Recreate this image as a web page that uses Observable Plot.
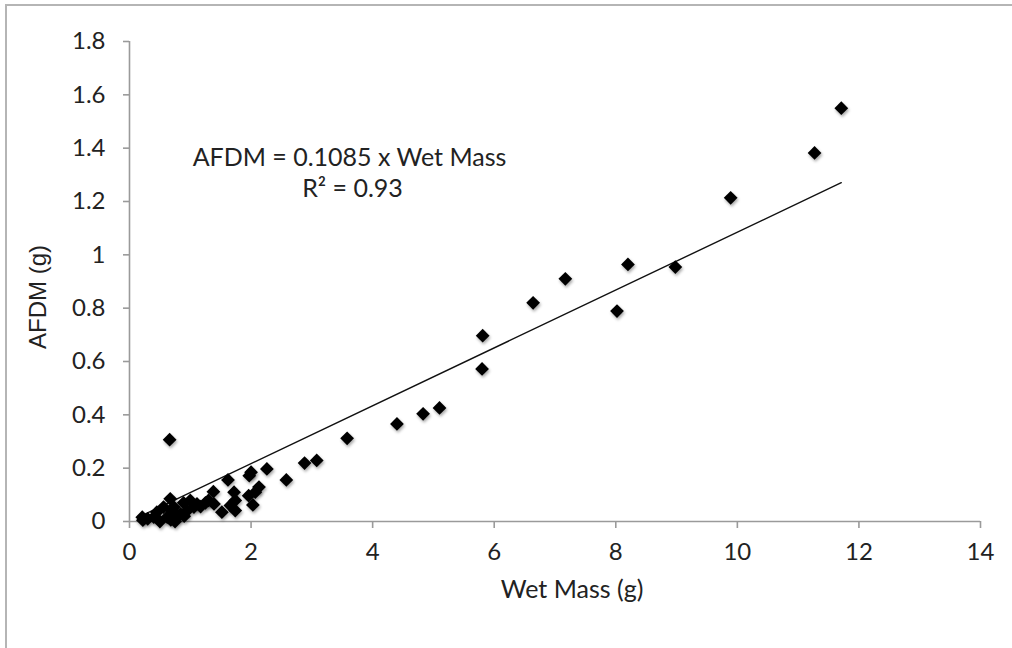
<!DOCTYPE html>
<html>
<head>
<meta charset="utf-8">
<script src="https://cdn.jsdelivr.net/npm/d3@7"></script>
<script src="https://cdn.jsdelivr.net/npm/@observablehq/plot@0.6"></script>
<style>
  html, body { margin: 0; padding: 0; background: #fff; }
  #wrap { position: relative; width: 1012px; height: 648px; overflow: hidden; }
  #frame { position: absolute; left: 5px; top: 4px; width: 1100px; height: 700px;
           border-left: 2px solid #b5b5b5; border-top: 2px solid #b5b5b5; pointer-events: none; }
  #chart { position: absolute; left: 0; top: 0; }
  g[aria-label="dot"] path { filter: drop-shadow(1px 2px 1.5px rgba(0,0,0,0.35)); }
</style>
</head>
<body>
<div id="wrap"><div id="chart"></div><div id="frame"></div></div>
<script>
// Wet mass (g) of each specimen
const wetMass = [11.71, 11.27, 9.89, 8.98, 8.20, 8.02, 7.17, 6.64, 5.81, 5.80,
  5.10, 4.83, 4.40, 3.58, 3.08, 2.88, 2.58, 2.26, 2.13, 2.07, 2.03, 2.00, 1.97, 1.96,
  1.74, 1.74, 1.72, 1.66, 1.62, 1.52, 1.39, 1.38, 1.30, 1.25, 1.17, 1.11, 1.06, 1.00,
  0.95, 0.89, 0.84, 0.79, 0.73, 0.68, 0.67, 0.66, 0.62, 0.56, 0.50, 0.45, 0.40, 0.30,
  0.21, 0.22, 0.70, 0.75, 0.90];
// Ash-free dry mass (g) of each specimen
const afdm = [1.55, 1.382, 1.214, 0.954, 0.964, 0.789, 0.91, 0.82, 0.697, 0.572,
  0.426, 0.404, 0.366, 0.312, 0.229, 0.219, 0.156, 0.197, 0.129, 0.11, 0.062, 0.185, 0.172, 0.097,
  0.079, 0.041, 0.11, 0.06, 0.156, 0.035, 0.066, 0.112, 0.079, 0.07, 0.056, 0.066, 0.054, 0.079,
  0.041, 0.07, 0.029, 0.02, 0.054, 0.006, 0.085, 0.307, 0.016, 0.054, 0.0, 0.035, 0.016, 0.01,
  0.016, 0.005, 0.04, 0.0, 0.02];
const slope = 0.1085;
const rSquared = 0.93;
const xTicks = [0, 2, 4, 6, 8, 10, 12, 14];
const yTicks = [0, 0.2, 0.4, 0.6, 0.8, 1, 1.2, 1.4, 1.6, 1.8];

const points = wetMass.map((x, i) => ({x, y: afdm[i]}));
const xMin = d3.min(wetMass), xMax = d3.max(wetMass);
const fit = [xMin, xMax].map(x => ({x, y: slope * x}));

const tickFont = "Lato, 'Open Sans', sans-serif";
const axisGray = "#9a9a9a";

const chart = Plot.plot({
  width: 1012,
  height: 648,
  marginLeft: 129,
  marginRight: 32,
  marginTop: 41,
  marginBottom: 127,
  style: {background: "transparent", fontFamily: tickFont, fontSize: "24px", color: "#222", overflow: "visible"},
  x: {domain: [0, 14], label: null},
  y: {domain: [0, 1.8], label: null},
  marks: [
    Plot.ruleY([0], {stroke: axisGray, strokeWidth: 1.6}),
    Plot.ruleX([0], {stroke: axisGray, strokeWidth: 1.6}),
    Plot.axisX({ticks: xTicks, tickSize: 7, tickPadding: 14, stroke: axisGray, strokeWidth: 1.6,
      fill: "#222", fontSize: 24, tickFormat: d => d3.format("")(d)}),
    Plot.axisY({ticks: yTicks, tickSize: 6, tickPadding: 18, stroke: axisGray, strokeWidth: 1.6,
      fill: "#222", fontSize: 24, tickFormat: d => String(+d.toFixed(1))}),
    Plot.line(fit, {x: "x", y: "y", stroke: "#111", strokeWidth: 1.4}),
    Plot.dot(points, {x: "x", y: "y", symbol: "diamond2", r: 6.2, fill: "#000", stroke: "none"}),
    Plot.text([`AFDM = ${slope} x Wet Mass`], {frameAnchor: "top-left", dx: 220, dy: 107,
      text: d => d, textAnchor: "middle", fontSize: 25, fill: "#222"}),
    Plot.text([`R² = ${rSquared}`], {frameAnchor: "top-left", dx: 223, dy: 138,
      text: d => d, textAnchor: "middle", fontSize: 25, fill: "#222"}),
    Plot.text(["Wet Mass (g)"], {frameAnchor: "bottom", dx: 17, dy: 76,
      text: d => d, textAnchor: "middle", fontSize: 25, fill: "#222"}),
    Plot.text(["AFDM (g)"], {frameAnchor: "left", dx: -91, dy: 15.5, rotate: -90,
      text: d => d, textAnchor: "middle", fontSize: 24, fill: "#222",
      fontFamily: "Liberation Sans, Arial, sans-serif"})
  ]
});
document.getElementById("chart").appendChild(chart);
</script>
</body>
</html>
